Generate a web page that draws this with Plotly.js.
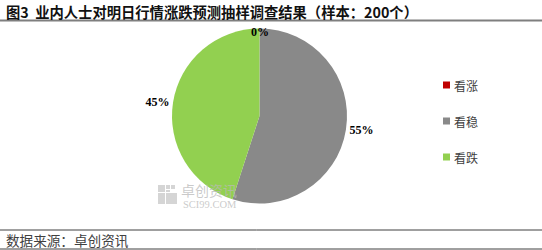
<!DOCTYPE html>
<html>
<head>
<meta charset="utf-8">
<script src="https://cdn.plot.ly/plotly-3.0.1.min.js"></script>
<style>html,body{margin:0;padding:0;background:#fff;}#chart{width:542px;height:250px;}</style>
</head>
<body>
<div id="chart"></div>
<script>
var categories = ['看涨', '看稳', '看跌'];
var values = [0, 55, 45];
var colors = ['#C00000', '#898989', '#92D050'];
var titleText = '图3  业内人士对明日行情涨跌预测抽样调查结果（样本：200个）';
var sourceText = '数据来源：卓创资讯';

var W = 542, H = 250;
function px(x) { return x / W; }
function py(y) { return 1 - y / H; }

var cjk = '"Noto Sans CJK SC", "Noto Sans", sans-serif';
var serif = '"Liberation Serif", "Times New Roman", serif';
var total = values.reduce(function (a, b) { return a + b; }, 0);

var pie = {
  type: 'pie',
  labels: categories,
  values: values,
  sort: false,
  direction: 'clockwise',
  rotation: 0,
  marker: { colors: colors, line: { width: 0 } },
  texttemplate: values.map(function (v) { return v === 0 ? '' : '%{percent:.0%}'; }),
  textposition: 'outside',
  outsidetextfont: { family: serif, size: 12, color: '#000', weight: 'bold' },
  showlegend: false,
  hoverinfo: 'label+percent',
  domain: { x: [px(172), px(347)], y: [py(203.5), py(28.5)] }
};

var shapes = [
  { type: 'line', xref: 'paper', yref: 'paper', x0: 0, x1: 1, y0: py(20.5), y1: py(20.5), line: { color: '#7f7f7f', width: 2 } },
  { type: 'line', xref: 'paper', yref: 'paper', x0: 0, x1: 1, y0: py(230), y1: py(230), line: { color: '#404040', width: 1 } },
  { type: 'line', xref: 'paper', yref: 'paper', x0: 0, x1: 1, y0: py(249), y1: py(249), line: { color: '#404040', width: 1 } }
];

var annotations = [
  { xref: 'paper', yref: 'paper', x: px(4), y: py(11), xanchor: 'left', yanchor: 'middle', showarrow: false,
    text: titleText, font: { family: cjk, size: 14.3, color: '#111', weight: 'bold' } },
  { xref: 'paper', yref: 'paper', x: px(4), y: py(240), xanchor: 'left', yanchor: 'middle', showarrow: false,
    text: sourceText, font: { family: cjk, size: 13.6, color: '#404040' } },
  { xref: 'paper', yref: 'paper', x: px(179), y: py(190), xanchor: 'left', yanchor: 'middle', showarrow: false,
    text: '卓创资讯', font: { family: cjk, size: 14, color: 'rgba(185,185,185,0.75)' } },
  { xref: 'paper', yref: 'paper', x: px(181), y: py(204), xanchor: 'left', yanchor: 'middle', showarrow: false,
    text: 'SCI99.COM', font: { family: serif, size: 10.5, color: 'rgba(185,185,185,0.75)' } }
];

// label for zero-valued slices (placed at the slice start, top of the pie)
values.forEach(function (v) {
  if (v === 0) {
    annotations.push({ xref: 'paper', yref: 'paper', x: px(260), y: py(32), xanchor: 'center', yanchor: 'middle', showarrow: false,
      text: Math.round(v / total * 100) + '%', font: { family: serif, size: 12, color: '#000', weight: 'bold' } });
  }
});

// watermark icon
[[158,185,7,7],[166,185,4,4],[171,185,4,4],[166,190,4,2],[158,193,7,11],[166,193,11,11]].forEach(function (r) {
  shapes.push({ type: 'rect', xref: 'paper', yref: 'paper', x0: px(r[0]), x1: px(r[0] + r[2]), y0: py(r[1] + r[3]), y1: py(r[1]),
    fillcolor: 'rgba(195,195,195,0.7)', line: { width: 0 } });
});

// legend built from categories/colors
var legendY = [85, 121, 157];
categories.forEach(function (c, i) {
  var y = legendY[i];
  shapes.push({ type: 'rect', xref: 'paper', yref: 'paper', x0: px(443), x1: px(450), y0: py(y + 3.5), y1: py(y - 3.5),
    fillcolor: colors[i], line: { width: 0 } });
  annotations.push({ xref: 'paper', yref: 'paper', x: px(452), y: py(y), xanchor: 'left', yanchor: 'middle', showarrow: false,
    text: c, font: { family: cjk, size: 12, color: '#404040' } });
});

var layout = {
  width: W, height: H,
  margin: { l: 0, r: 0, t: 0, b: 0 },
  paper_bgcolor: '#fff',
  plot_bgcolor: '#fff',
  shapes: shapes,
  annotations: annotations,
  showlegend: false
};

Plotly.newPlot('chart', [pie], layout, { displayModeBar: false, staticPlot: true });
</script>
</body>
</html>
